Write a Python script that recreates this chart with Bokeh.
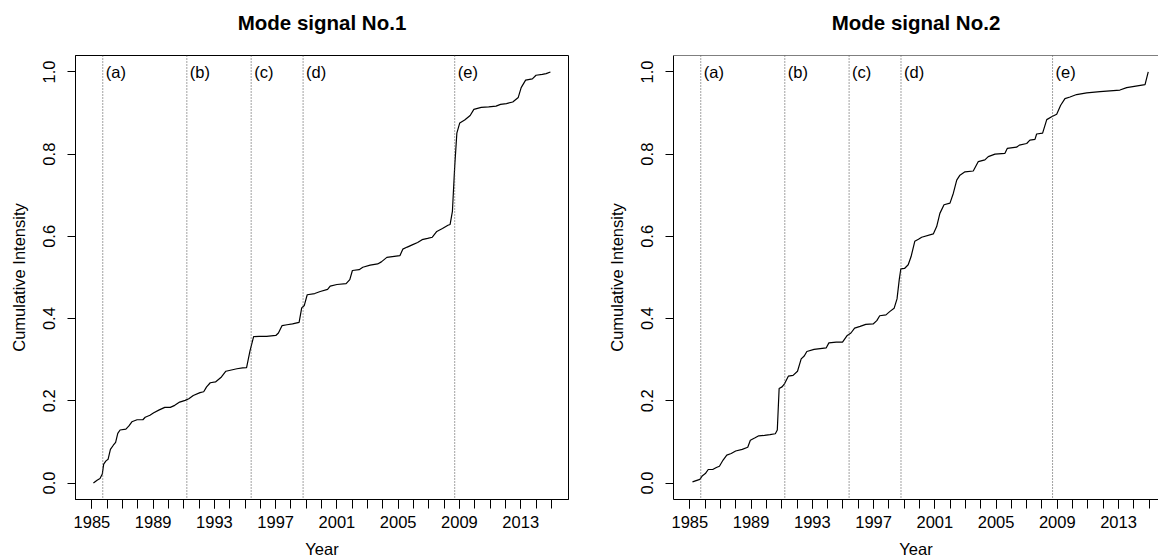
from bokeh.plotting import figure
from bokeh.layouts import row
from bokeh.models import Range1d, FixedTicker, Span, ColumnDataSource, LinearAxis
from bokeh.core.properties import value
from bokeh.embed import file_html
from bokeh.resources import INLINE

# ---------------- data ----------------
years1 = [1985.10, 1985.34, 1985.53, 1985.68, 1985.77, 1985.92, 1986.06, 1986.21, 1986.40, 1986.55,
          1986.69, 1986.84, 1987.22, 1987.42, 1987.61, 1987.95, 1988.33, 1988.48, 1988.79, 1989.04,
          1989.40, 1989.76, 1990.12, 1990.41, 1990.73, 1991.09, 1991.33, 1991.62, 1992.06, 1992.30,
          1992.49, 1992.73, 1993.07, 1993.46, 1993.75, 1994.11, 1994.47, 1994.84, 1995.10, 1995.32,
          1995.56, 1995.92, 1996.41, 1997.01, 1997.18, 1997.42, 1997.74, 1998.10, 1998.53, 1998.70,
          1998.87, 1999.06, 1999.55, 1999.91, 2000.39, 2000.56, 2001.00, 2001.60, 2001.84, 2002.01,
          2002.45, 2002.69, 2003.17, 2003.66, 2003.90, 2004.26, 2004.62, 2005.11, 2005.30, 2005.59,
          2005.95, 2006.27, 2006.56, 2006.92, 2007.23, 2007.52, 2007.89, 2008.25, 2008.39, 2008.54,
          2008.69, 2008.83, 2009.02, 2009.34, 2009.70, 2009.94, 2010.42, 2010.91, 2011.39, 2011.68,
          2012.07, 2012.48, 2012.84, 2013.03, 2013.32, 2013.76, 2014.00, 2014.41, 2014.66, 2014.94]
values1 = [0.000, 0.007, 0.011, 0.022, 0.046, 0.054, 0.058, 0.082, 0.092, 0.099,
           0.121, 0.129, 0.131, 0.139, 0.149, 0.154, 0.154, 0.160, 0.165, 0.171,
           0.178, 0.184, 0.184, 0.189, 0.197, 0.201, 0.205, 0.213, 0.220, 0.222,
           0.234, 0.244, 0.246, 0.258, 0.272, 0.275, 0.278, 0.280, 0.281, 0.321,
           0.356, 0.357, 0.357, 0.359, 0.365, 0.383, 0.385, 0.387, 0.391, 0.426,
           0.432, 0.458, 0.461, 0.466, 0.471, 0.479, 0.483, 0.485, 0.495, 0.517,
           0.519, 0.525, 0.530, 0.533, 0.538, 0.549, 0.551, 0.553, 0.569, 0.574,
           0.580, 0.585, 0.592, 0.595, 0.598, 0.612, 0.619, 0.627, 0.629, 0.661,
           0.770, 0.851, 0.876, 0.883, 0.894, 0.909, 0.914, 0.915, 0.917, 0.921,
           0.923, 0.927, 0.938, 0.962, 0.980, 0.983, 0.992, 0.994, 0.996, 1.000]

years2 = [1985.17, 1985.41, 1985.65, 1985.82, 1986.01, 1986.20, 1986.49, 1986.73, 1986.93, 1987.17,
          1987.41, 1987.70, 1987.99, 1988.42, 1988.78, 1988.95, 1989.26, 1989.50, 1989.87, 1990.23,
          1990.58, 1990.71, 1990.83, 1991.02, 1991.19, 1991.43, 1991.74, 1992.03, 1992.27, 1992.47,
          1992.64, 1993.11, 1993.91, 1994.08, 1994.56, 1994.97, 1995.28, 1995.52, 1995.76, 1996.12,
          1996.49, 1996.97, 1997.21, 1997.40, 1997.81, 1998.05, 1998.34, 1998.53, 1998.68, 1998.78,
          1999.02, 1999.26, 1999.45, 1999.69, 1999.93, 2000.14, 2000.90, 2001.12, 2001.33, 2001.60,
          2001.99, 2002.21, 2002.43, 2002.64, 2002.97, 2003.51, 2003.84, 2004.27, 2004.49, 2004.93,
          2005.58, 2005.73, 2006.34, 2006.52, 2007.00, 2007.21, 2007.54, 2007.65, 2008.04, 2008.31,
          2008.63, 2008.96, 2009.22, 2009.50, 2009.83, 2010.26, 2010.92, 2011.79, 2013.09, 2013.53,
          2014.73, 2014.94]
values2 = [0.003, 0.006, 0.009, 0.018, 0.023, 0.033, 0.033, 0.038, 0.041, 0.056,
           0.068, 0.072, 0.078, 0.082, 0.087, 0.104, 0.110, 0.115, 0.116, 0.118,
           0.120, 0.129, 0.230, 0.234, 0.242, 0.260, 0.262, 0.272, 0.302, 0.309,
           0.320, 0.325, 0.329, 0.341, 0.343, 0.343, 0.359, 0.365, 0.377, 0.381,
           0.386, 0.387, 0.395, 0.407, 0.409, 0.417, 0.425, 0.448, 0.496, 0.521,
           0.522, 0.531, 0.551, 0.588, 0.593, 0.598, 0.606, 0.624, 0.656, 0.677,
           0.681, 0.705, 0.737, 0.749, 0.757, 0.759, 0.782, 0.786, 0.794, 0.800,
           0.802, 0.814, 0.817, 0.822, 0.826, 0.834, 0.836, 0.849, 0.851, 0.884,
           0.891, 0.897, 0.919, 0.935, 0.939, 0.945, 0.949, 0.952, 0.956, 0.962,
           0.969, 1.000]

event_years = [1985.71, 1991.20, 1995.40, 1998.79, 2008.69]
event_labels = ["(a)", "(b)", "(c)", "(d)", "(e)"]

titles = ["Mode signal No.1", "Mode signal No.2"]
x_label = "Year"
y_label = "Cumulative Intensity"
x_major_ticks = [1985, 1989, 1993, 1997, 2001, 2005, 2009, 2013]
x_minor_ticks = list(range(1985, 2016))
y_ticks = [0.0, 0.2, 0.4, 0.6, 0.8, 1.0]
y_tick_labels = ["0.0", "0.2", "0.4", "0.6", "0.8", "1.0"]

FONT = "Liberation Sans"
X0, X1 = 1983.93, 2016.12
Y0, Y1 = -0.04, 1.04
HEIGHT = 560
TOP, BOTTOM = 55, 60


def make_panel(title, xs, ys, x_end, width, border_left, border_right, box):
    p = figure(width=width, height=HEIGHT, output_backend="svg", toolbar_location=None,
               x_range=Range1d(X0, x_end), y_range=Range1d(Y0, Y1),
               min_border_left=border_left, min_border_right=border_right,
               min_border_top=TOP, min_border_bottom=BOTTOM)
    p.xgrid.visible = False
    p.ygrid.visible = False
    p.background_fill_color = "white"
    p.border_fill_color = "white"
    if box:
        p.outline_line_color = "black"
        p.outline_line_width = 1
    else:
        p.outline_line_color = None
        p.add_layout(Span(location=Y1, dimension="width", line_color="black", line_width=1))

    xa = p.below[0]
    xa.ticker = FixedTicker(ticks=x_major_ticks, minor_ticks=x_minor_ticks)
    xa.axis_label = x_label
    xa.axis_label_text_font = FONT
    xa.axis_label_text_font_size = "16.5px"
    xa.axis_label_text_font_style = "normal"
    xa.axis_label_text_color = "black"
    xa.axis_label_standoff = 9
    xa.major_label_text_font = FONT
    xa.major_label_text_font_size = "16.5px"
    xa.major_label_text_color = "black"
    xa.major_label_standoff = 7
    xa.major_tick_out = 9
    xa.major_tick_in = 0
    xa.minor_tick_out = 9
    xa.minor_tick_in = 0
    xa.minor_tick_line_color = "black"
    xa.major_tick_line_color = "black"
    xa.axis_line_color = "black"

    ya = p.left[0]
    ya.ticker = FixedTicker(ticks=y_ticks)
    ya.major_label_overrides = {t: l for t, l in zip(y_ticks, y_tick_labels)}
    ya.major_label_orientation = "vertical"
    ya.axis_label = y_label
    ya.axis_label_text_font = FONT
    ya.axis_label_text_font_size = "16.5px"
    ya.axis_label_text_font_style = "normal"
    ya.axis_label_text_color = "black"
    ya.axis_label_standoff = 13
    ya.major_label_text_font = FONT
    ya.major_label_text_font_size = "16.5px"
    ya.major_label_text_color = "black"
    ya.major_label_standoff = 12
    ya.major_tick_out = 8
    ya.major_tick_in = 0
    ya.minor_tick_out = 0
    ya.minor_tick_in = 0
    ya.major_tick_line_color = "black"
    ya.axis_line_color = "black"

    # title drawn as the label of an empty axis above the frame
    ta = LinearAxis(ticker=FixedTicker(ticks=[]), axis_label=title,
                    axis_line_color=None, major_tick_line_color=None,
                    minor_tick_line_color=None, major_tick_out=0, minor_tick_out=0,
                    major_tick_in=0, minor_tick_in=0,
                    major_label_text_font_size="0px", major_label_standoff=0,
                    axis_label_standoff=22, axis_label_text_font=FONT,
                    axis_label_text_font_size="20.5px", axis_label_text_font_style="bold",
                    axis_label_text_color="black")
    p.add_layout(ta, "above")

    for ev in event_years:
        p.add_layout(Span(location=ev, dimension="height", line_color="#444444",
                          line_width=1, line_dash="1 2"))

    src = ColumnDataSource(dict(x=event_years, y=[1.0] * len(event_years), t=event_labels))
    p.text(x="x", y="y", text="t", source=src, x_offset=3, text_align="left",
           text_baseline="middle", text_font=value(FONT), text_font_size="16.5px",
           text_color="black")

    p.line(xs, ys, line_color="black", line_width=1.2)
    return p


p1 = make_panel(titles[0], years1, values1, X1, 588, 75, 20, True)
p2 = make_panel(titles[1], years2, values2, 2015.61, 570, 85, 0, False)

layout = row(p1, p2, spacing=0)
open("out.html", "w").write(file_html(layout, INLINE))
